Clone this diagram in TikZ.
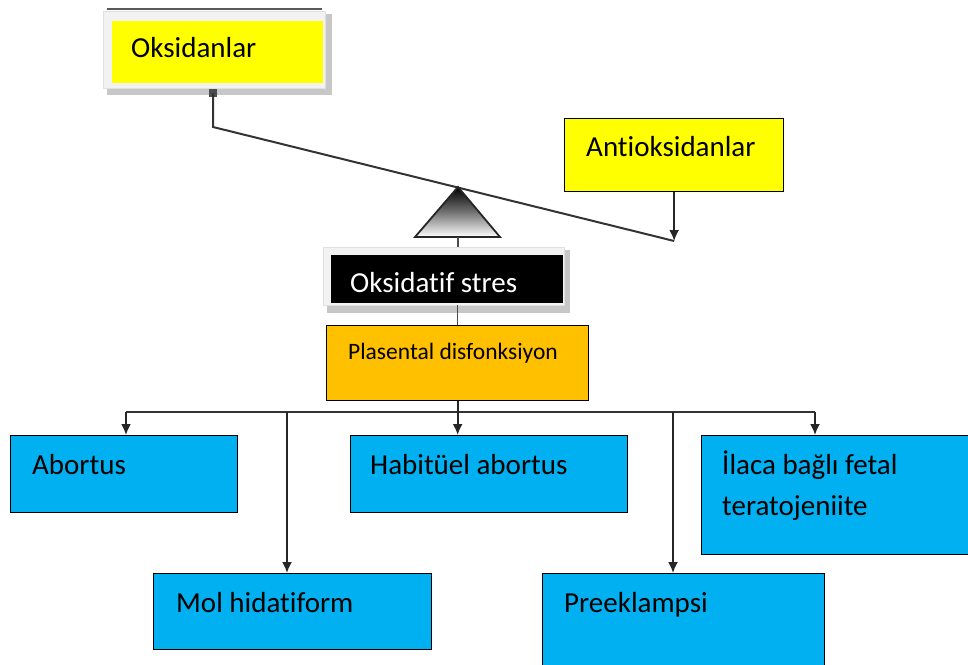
\documentclass[tikz,border=0pt]{standalone}
\usepackage{fontspec}
\setmainfont{Carlito}[Ligatures=NoCommon]
\usepackage{xcolor}
\usepackage{tikz}
\usetikzlibrary{arrows.meta, calc}
\definecolor{boxyellow}{RGB}{255,255,0}
\definecolor{boxorange}{RGB}{255,192,0}
\definecolor{boxblue}{RGB}{0,176,240}

\tikzset{
  box/.style={draw=black, line width=1.3pt, anchor=north west, inner sep=0pt},
  frame/.style={draw=black!12, fill=black!5, anchor=north west, inner sep=0pt},
  txt/.style={anchor=base west, inner sep=0pt, font=\fontsize{29}{41}\selectfont, align=left},
  link/.style={line width=2pt, black!80},
  arr/.style={line width=1.8pt, black!85, -{Latex[length=11pt,width=10pt]}},
}

\begin{document}
\begin{tikzpicture}[x=1pt,y=-1pt]
\useasboundingbox (0,0) rectangle (968,664);

% Oksidanlar with its frame
\fill[black!22] (107,86) rectangle (332,95);
\fill[black!22] (324,14) rectangle (332,95);
\draw[black!65, line width=1.5pt] (107,9) -- (322,9);
\node[frame, minimum width=222pt, minimum height=77pt] (oksframe) at (103,11) {};
\node[box, draw=none, fill=boxyellow, minimum width=211pt, minimum height=62pt] (oks) at (111,20) {};
\node[txt] (okstext) at (131,57) {Oksidanlar};

% Antioksidanlar
\node[box, fill=boxyellow, minimum width=219pt, minimum height=73pt] (antioks) at (564,118) {};
\node[txt] (antiokstext) at (586,156) {Antioksidanlar};

% balance
\coordinate (beamL) at (213,127);
\coordinate (beamR) at (antioks.south |- 0,241);
\fill[black!70] (209,89) rectangle (217,97);
\draw[link] (213,93) -- (beamL) -- (beamR);
\draw[arr] (antioks.south) -- (beamR);
\shade[top color=black, bottom color=white, middle color=black!55] (458,187) -- (415,237) -- (500,237) -- cycle;
\draw[line width=1.8pt, black!85] (458,187) -- (415,237) -- (500,237) -- cycle;

% Oksidatif stres with its frame
\fill[black!22] (327,303) rectangle (570,313);
\fill[black!22] (562,250) rectangle (570,313);
\node[frame, minimum width=241pt, minimum height=58pt] (stresframe) at (323,247) {};
\node[box, draw=none, fill=black, minimum width=232pt, minimum height=48pt] (stres) at (330,254) {};
\node[txt, text=white] (strestext) at (350,292) {Oksidatif stres};
\draw[line width=1.2pt, black!70] (458,237) -- (458,247);

% Plasental disfonksiyon
\node[box, fill=boxorange, minimum width=262pt, minimum height=75pt] (plas) at (326,325) {};
\node[txt, font=\fontsize{23.5}{28}\selectfont] (plastext) at (348,359) {Plasental disfonksiyon};
\draw[line width=1.2pt, black!70] (stresframe.south -| plas.north) -- (plas.north);

% outcomes
\node[box, fill=boxblue, minimum width=227pt, minimum height=77pt] (abort) at (10,435) {};
\node[box, fill=boxblue, minimum width=277pt, minimum height=77pt] (habit) at (350,435) {};
\node[box, fill=boxblue, minimum width=272pt, minimum height=119pt] (ilaca) at (701,435) {};
\node[box, fill=boxblue, minimum width=278pt, minimum height=76pt] (mol) at (153,573) {};
\node[box, fill=boxblue, minimum width=282pt, minimum height=98pt] (pre) at (542,573) {};

\node[txt] (aborttext) at (32,474) {Abortus};
\node[txt] (habittext) at (370,474) {Habitüel abortus};
\node[txt] (ilacatext) at (722,515) {İlaca bağlı fetal\\teratojeniite};
\node[txt] (moltext) at (176,612) {Mol hidatiform};
\node[txt] (pretext) at (564,612) {Preeklampsi};

% distribution line
\coordinate (b1) at (126,412);
\coordinate (b2) at (287,412);
\coordinate (b3) at (673,412);
\coordinate (b4) at (815,412);
\draw[link] (b1) -- (b4);
\draw[arr] (plas.south) -- (plas.south |- habit.north);
\draw[arr] (b1) -- (b1 |- abort.north);
\draw[arr] (b2) -- (b2 |- mol.north);
\draw[arr] (b3) -- (b3 |- pre.north);
\draw[arr] (b4) -- (b4 |- ilaca.north);

\end{tikzpicture}
\end{document}
